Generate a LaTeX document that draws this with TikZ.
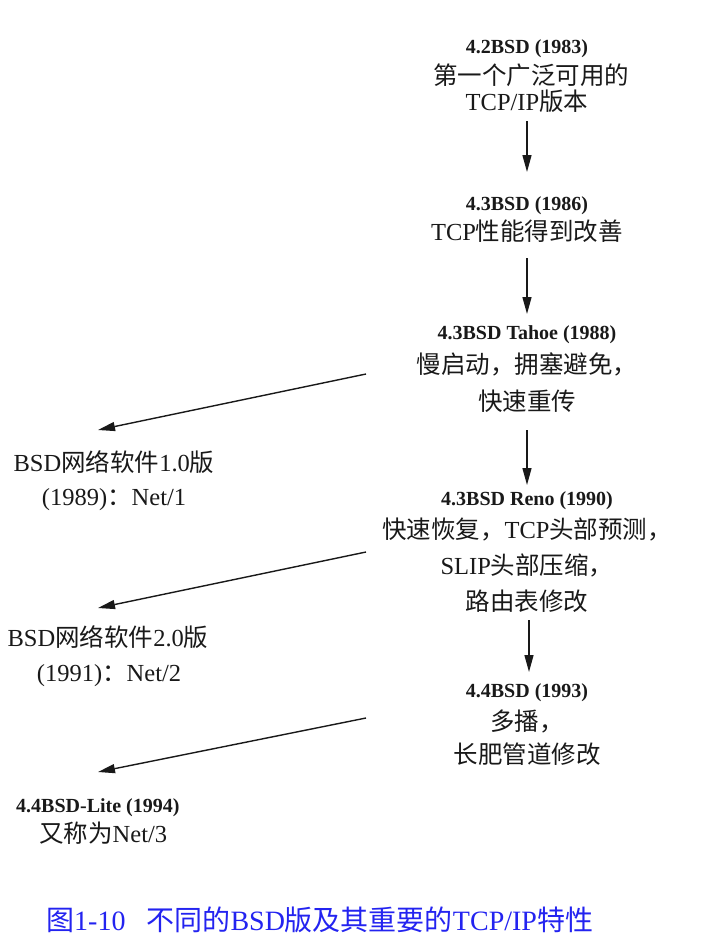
\documentclass[tikz,border=0pt]{standalone}
\usepackage{fontspec}
\setmainfont{Liberation Serif}
\newfontfamily\cjk{Noto Sans CJK SC}
\usetikzlibrary{arrows.meta}
\definecolor{captionblue}{RGB}{35,35,240}
\definecolor{ink}{RGB}{25,25,25}
\tikzset{
  title/.style={font=\fontsize{20}{24}\selectfont\bfseries, text=ink, inner sep=0pt, anchor=base},
  body/.style={font=\fontsize{24.5}{29}\selectfont, text=ink, inner sep=0pt, anchor=base},
  arr/.style={-{Triangle[length=17pt,width=9pt]}, line width=1.4pt, draw=ink},
}
\begin{document}
\begin{tikzpicture}[x=1pt,y=-1pt]
\useasboundingbox (0,0) rectangle (707,943);
% right column
\node[title] (t1) at (527,53) {4.2BSD (1983)};
\node[body]  (a1) at (531,84) {\cjk 第一个广泛可用的};
\node[body]  (a2) at (527,110) {TCP/IP{\cjk 版本}};
\node[title] (t2) at (527,210) {4.3BSD (1986)};
\node[body]  (b1) at (527,240) {TCP{\cjk 性能得到改善}};
\node[title] (t3) at (527,339) {4.3BSD Tahoe (1988)};
\node[body]  (c1) at (527,373) {\cjk 慢启动，拥塞避免，};
\node[body]  (c2) at (527,410) {\cjk 快速重传};
\node[title] (t4) at (527,505) {4.3BSD Reno (1990)};
\node[body]  (d1) at (527,538) {{\cjk 快速恢复，}TCP{\cjk 头部预测，}};
\node[body]  (d2) at (527,574) {SLIP{\cjk 头部压缩，}};
\node[body]  (d3) at (527,610) {\cjk 路由表修改};
\node[title] (t5) at (527,697) {4.4BSD (1993)};
\node[body]  (e1) at (527,730) {\cjk 多播，};
\node[body]  (e2) at (527,763) {\cjk 长肥管道修改};
% left column
\node[body]  (f1) at (114,471) {BSD{\cjk 网络软件}1.0{\cjk 版}};
\node[body]  (f2) at (114,505) {(1989){\cjk ：}Net/1};
\node[body]  (g1) at (108,646) {BSD{\cjk 网络软件}2.0{\cjk 版}};
\node[body]  (g2) at (109,681) {(1991){\cjk ：}Net/2};
\node[title, anchor=base west] (h1) at (16,812) {4.4BSD-Lite (1994)};
\node[body, anchor=base west]  (h2) at (39,842) {{\cjk 又称为}Net/3};
% caption
\node[font=\fontsize{28}{33}\selectfont, text=captionblue, inner sep=0pt, anchor=base west] (cap) at (46,930)
  {{\cjk 图}1-10\hspace{0.75em}{\cjk 不同的}BSD{\cjk 版及其重要的}TCP/IP{\cjk 特性}};
% vertical arrows
\draw[arr] ([yshift=-11pt]a2.base) -- ([yshift=38pt]t2.base);
\draw[arr] ([yshift=-18pt]b1.base) -- ([yshift=25pt]t3.base);
\draw[arr] ([yshift=-20pt]c2.base) -- ([yshift=20pt]t4.base);
\draw[arr] ([xshift=2pt,yshift=-10pt]d3.base) -- ([xshift=2pt,yshift=25pt]t5.base);
% diagonal arrows
\coordinate (s1) at (366,374);
\coordinate (s2) at (366,552);
\coordinate (s3) at (366,718);
\draw[arr] (s1) -- ([xshift=-16pt,yshift=41pt]f1.base);
\draw[arr] (s2) -- ([xshift=-10pt,yshift=38pt]g1.base);
\draw[arr] (s3) -- ([xshift=82pt,yshift=40pt]h1.base west);
\end{tikzpicture}
\end{document}
